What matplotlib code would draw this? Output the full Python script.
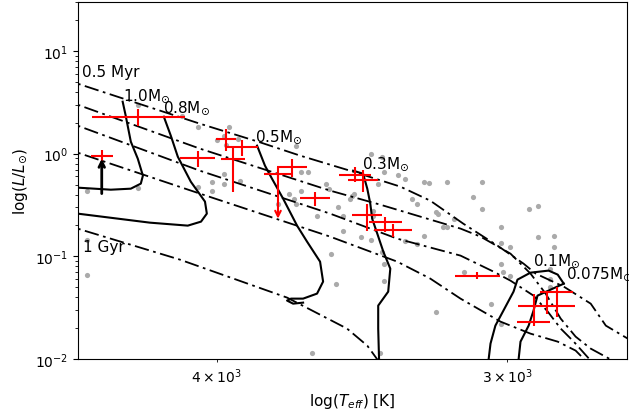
import numpy as np
import matplotlib
matplotlib.use("Agg")
import matplotlib.pyplot as plt

# ---------------- data (log10 Teff [K], log10 L/Lsun) ----------------
# field / comparison stars (grey points)
grey_logT = [3.636, 3.617, 3.610, 3.597, 3.599, 3.593, 3.598, 3.568, 3.658, 3.636,
             3.599, 3.604, 3.604, 3.599, 3.592, 3.610, 3.658, 3.658, 3.561, 3.576,
             3.568, 3.571, 3.566, 3.569, 3.566, 3.563, 3.555, 3.554, 3.559, 3.550,
             3.548, 3.544, 3.548, 3.536, 3.540, 3.536, 3.530, 3.524, 3.521, 3.513,
             3.511, 3.503, 3.488, 3.533, 3.543, 3.545, 3.535, 3.535, 3.553, 3.531,
             3.530, 3.530, 3.551, 3.492, 3.488, 3.518, 3.516, 3.508, 3.500, 3.505,
             3.503, 3.480, 3.513, 3.521, 3.516, 3.480, 3.476, 3.464, 3.457, 3.457,
             3.480, 3.479, 3.476, 3.496, 3.459, 3.459, 3.459, 3.484, 3.480, 3.508,
             3.532, 3.468, 3.464, 3.507, 3.531, 3.602]
grey_logL = [0.477, 0.370, 0.263, 0.263, 0.175, 0.146, 0.088, 0.078, -0.360, -0.331,
             -0.195, -0.273, -0.360, -0.292, -0.263, -0.321, -0.837, -1.178, -1.938, -0.487,
             -0.487, -0.389, -0.360, -0.438, -0.175, -0.175, -0.292, -0.341, -0.604, -0.516,
             -0.604, -0.409, -0.750, 0.000, -0.808, -0.837, -0.175, -0.204, -0.243, -0.273,
             -0.282, -0.273, -0.273, -0.292, -0.389, -0.438, -0.555, -0.604, -0.974, -0.954,
             -1.071, -1.237, -1.266, -0.419, -0.536, -0.438, -0.487, -0.565, -0.633, -0.711,
             -0.711, -0.711, -0.798, -0.847, -0.876, -0.867, -0.906, -0.808, -0.798, -0.906,
             -1.071, -1.149, -1.188, -1.149, -1.120, -1.217, -1.295, -1.461, -1.655, -1.538,
             -1.938, -0.536, -0.506, -0.584, -0.029, 0.136]

# target stars with error bars (red)
red_logT = [3.636, 3.6516, 3.6103, 3.5982, 3.5913, 3.5952, 3.5758, 3.5697, 3.5599,
            3.5426, 3.5392, 3.5374, 3.5297, 3.5262, 3.4900, 3.4659, 3.4603, 3.4560]
red_logL = [0.360, -0.019, -0.039, 0.146, 0.068, -0.049, -0.195, -0.127, -0.428,
            -0.204, -0.253, -0.594, -0.662, -0.740, -1.188, -1.636, -1.480, -1.344]
red_eT = [0.020, 0.0047, 0.0075, 0.0043, 0.0069, 0.005, 0.006, 0.0065, 0.0065,
          0.0069, 0.0065, 0.0065, 0.0071, 0.0082, 0.0097, 0.0071, 0.0123, 0.0069]
red_eL_lo = [0.088, 0.097, 0.088, 0.117, 0.088, 0.321, 0.05, 0.097, 0.078,
             0.068, 0.117, 0.156, 0.097, 0.068, 0.029, 0.039, 0.078, 0.243]
red_eL_hi = [0.078, 0.058, 0.068, 0.097, 0.068, 0.127, 0.068, 0.078, 0.058,
             0.078, 0.097, 0.107, 0.049, 0.058, 0.039, 0.273, 0.136, 0.049]

# limits (arrows): lower limit (black) and upper limit (red)
lowlim_logT, lowlim_logL_from, lowlim_logL_to = 3.6516, -0.389, -0.049
uplim_logT, uplim_logL_from, uplim_logL_to = 3.5758, -0.195, -0.633

# evolutionary tracks
track_labels = ["1.0M$_{\\odot}$", "0.8M$_{\\odot}$", "0.5M$_{\\odot}$",
                "0.3M$_{\\odot}$", "0.1M$_{\\odot}$", "0.075M$_{\\odot}$"]
trk10_logT = [3.6426, 3.6413, 3.6391, 3.6361, 3.6339, 3.6348, 3.6391, 3.6477, 3.6620, 3.6697]
trk10_logL = [0.506, 0.370, 0.117, -0.049, -0.214, -0.292, -0.341, -0.351, -0.331, -0.331]
trk08_logT = [3.6249, 3.6219, 3.6189, 3.6133, 3.6072, 3.6064, 3.6089, 3.6146, 3.6309, 3.6482, 3.6620, 3.6697]
trk08_logL = [0.360, 0.175, -0.029, -0.273, -0.467, -0.584, -0.662, -0.701, -0.672, -0.623, -0.584, -0.565]
trk05_logT = [3.5848, 3.5814, 3.5784, 3.5736, 3.5676, 3.5633, 3.5577, 3.5564, 3.5590, 3.5650,
              3.5702, 3.5719, 3.5693, 3.5650]
trk05_logL = [0.078, -0.117, -0.243, -0.438, -0.701, -0.857, -1.052, -1.246, -1.363, -1.412,
              -1.412, -1.431, -1.461, -1.451]
trk03_logT = [3.5435, 3.5392, 3.5374, 3.5361, 3.5353, 3.5331, 3.5305, 3.5275, 3.5284, 3.5327, 3.5327, 3.5323]
trk03_logL = [-0.166, -0.195, -0.341, -0.487, -0.633, -0.779, -0.954, -1.120, -1.344, -1.480, -1.704, -2.03]
trk01_logT = [3.4529, 3.4555, 3.4594, 3.4672, 3.4728, 3.4745, 3.4823, 3.4844, 3.4853]
trk01_logL = [-1.266, -1.178, -1.139, -1.159, -1.227, -1.344, -1.675, -1.850, -2.02]
trk0075_logT = [3.4529, 3.4642, 3.4659, 3.4680, 3.4715, 3.4724]
trk0075_logL = [-1.266, -1.383, -1.529, -1.675, -1.831, -2.02]
track_label_logT = [3.6426, 3.6253, 3.5857, 3.5396, 3.4663, 3.4521]
track_label_logL = [0.574, 0.458, 0.175, -0.088, -1.032, -1.159]

# isochrones (0.5 Myr ... 1 Gyr)
isoA_logT = [3.6697, 3.6620, 3.6094, 3.5844, 3.5663, 3.5435, 3.5232, 3.5103, 3.4961, 3.4814,
             3.4702, 3.4650, 3.4594, 3.4529, 3.4413, 3.4348, 3.4254, 3.4198]
isoA_logL = [0.730, 0.682, 0.292, 0.117, -0.019, -0.175, -0.321, -0.458, -0.682, -0.896,
             -1.071, -1.168, -1.227, -1.295, -1.461, -1.675, -1.801, -1.86]
isoB_logT = [3.6697, 3.6620, 3.6094, 3.5534, 3.5318, 3.4973, 3.4887, 3.4758, 3.4672, 3.4607,
             3.4542, 3.4478, 3.4413, 3.4318]
isoB_logL = [0.536, 0.477, 0.049, -0.360, -0.497, -0.730, -0.808, -0.974, -1.168, -1.363,
             -1.607, -1.782, -1.899, -2.016]
isoC_logT = [3.6697, 3.6620, 3.6094, 3.5534, 3.5245, 3.4973, 3.4831, 3.4758, 3.4659, 3.4598,
             3.4542, 3.4486, 3.4413]
isoC_logL = [0.331, 0.273, -0.166, -0.584, -0.828, -0.993, -1.149, -1.237, -1.383, -1.538,
             -1.704, -1.831, -2.016]
isoD_logT = [3.6697, 3.6620, 3.6094, 3.5534, 3.5245, 3.5103, 3.4973, 3.4801, 3.4672, 3.4555,
             3.4478, 3.4435]
isoD_logL = [0.058, 0.010, -0.389, -0.808, -1.052, -1.217, -1.412, -1.636, -1.753, -1.831,
             -1.918, -2.016]
isoE_logT = [3.6697, 3.6620, 3.6180, 3.5719, 3.5461, 3.5374, 3.5327]
isoE_logL = [-0.682, -0.730, -1.032, -1.402, -1.704, -1.870, -2.016]
iso_labels = ["0.5 Myr", "1 Gyr"]
iso_label_logT = [3.6602, 3.6598]
iso_label_logL = [0.798, -0.906]

# ---------------- plot ----------------
fig = plt.figure(figsize=(6.29, 4.14), dpi=100)
ax = fig.add_axes([78 / 629, 54 / 414, 549 / 629, 357 / 414])

p = lambda a: 10 ** np.asarray(a)

ax.scatter(p(grey_logT), p(grey_logL), s=14, color="#aaaaaa", zorder=1, linewidths=0)

isos = [(isoA_logT, isoA_logL), (isoB_logT, isoB_logL), (isoC_logT, isoC_logL),
        (isoD_logT, isoD_logL), (isoE_logT, isoE_logL)]
for lt, ll in isos:
    ax.plot(p(lt), p(ll), color="k", lw=1.3, ls=(0, (8, 2.5, 1.5, 2.5)), zorder=2)

tracks = [(trk10_logT, trk10_logL), (trk08_logT, trk08_logL), (trk05_logT, trk05_logL),
          (trk03_logT, trk03_logL), (trk01_logT, trk01_logL), (trk0075_logT, trk0075_logL)]
for lt, ll in tracks:
    ax.plot(p(lt), p(ll), color="k", lw=1.5, zorder=3)

rT = p(red_logT)
rL = p(red_logL)
xerr = [rT - p(np.array(red_logT) - np.array(red_eT)), p(np.array(red_logT) + np.array(red_eT)) - rT]
yerr = [rL - p(np.array(red_logL) - np.array(red_eL_lo)), p(np.array(red_logL) + np.array(red_eL_hi)) - rL]
ax.errorbar(rT, rL, xerr=xerr, yerr=yerr, fmt="none", ecolor="red", elinewidth=1.5,
            capsize=0, zorder=4)

ax.annotate("", xy=(p(lowlim_logT), p(lowlim_logL_to)), xytext=(p(lowlim_logT), p(lowlim_logL_from)),
            arrowprops=dict(arrowstyle="->", color="k", lw=2, shrinkA=0, shrinkB=0), zorder=5)
ax.annotate("", xy=(p(uplim_logT), p(uplim_logL_to)), xytext=(p(uplim_logT), p(uplim_logL_from)),
            arrowprops=dict(arrowstyle="->", color="red", lw=1.5, shrinkA=0, shrinkB=0), zorder=5)

for lab, lt, ll in zip(track_labels, track_label_logT, track_label_logL):
    ax.text(p(lt), p(ll), lab, fontsize=11, ha="left", va="center", zorder=6)
for lab, lt, ll in zip(iso_labels, iso_label_logT, iso_label_logL):
    ax.text(p(lt), p(ll), lab, fontsize=11, ha="left", va="center", zorder=6)

ax.set_xscale("log")
ax.set_yscale("log")
ax.set_xlim(4590, 2665)
ax.set_ylim(0.01, 30)
ax.set_xlabel("log($T_{eff}$) [K]", fontsize=11)
ax.set_ylabel("log($L/L_{\\odot}$)", fontsize=11)
ax.tick_params(labelsize=10)

fig.savefig("out.png", dpi=100)
